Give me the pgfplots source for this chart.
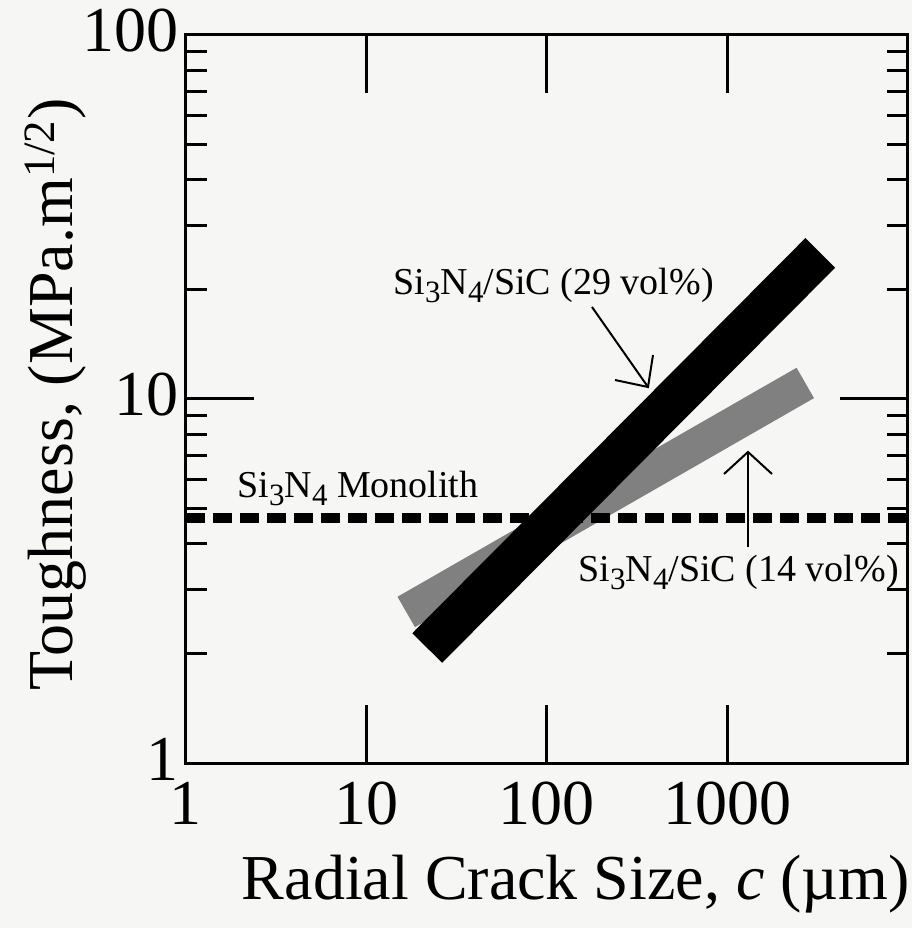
\documentclass[border=0pt]{standalone}
\usepackage{fontspec}
\setmainfont{Liberation Serif}
\usepackage{pgfplots}
\pgfplotsset{compat=1.18}
\definecolor{bg}{RGB}{246,246,244}
\newcommand\annfont{\fontsize{19}{23}\selectfont}
\newcommand\sub[1]{\raisebox{-4pt}{\fontsize{15.5}{18}\selectfont #1}}
\begin{document}
\begin{tikzpicture}
\begin{scope}[x=0.5pt,y=-0.5pt,shift={(-93pt,381.5pt)}]
\fill[bg] (0,0) rectangle (912,928);
\end{scope}
\begin{axis}[
  at={(0,0)}, anchor=south west,
  scale only axis, width=361pt, height=364pt,
  xmode=log, ymode=log,
  xmin=1, xmax=10000, ymin=1, ymax=100,
  xtick={1,10,100,1000}, xticklabels={1,10,100,1000},
  ytick={1,100}, yticklabels={1,100},
  extra y ticks={10}, extra y tick labels={10},
  extra y tick style={major tick length=34pt},
  xminorticks=false,
  minor ytick={2,3,4,5,6,7,8,9,20,30,40,50,60,70,80,90},
  major tick length=29pt, minor tick length=10.5pt,
  tick align=inside,
  axis line style={line width=1.5pt},
  tick style={line width=1.5pt, black},
  /pgf/number format/assume math mode=true,
  ticklabel style={font=\fontsize{32}{38}\selectfont},
  xticklabel style={yshift=-6pt},
  yticklabel style={yshift=2pt},
  label style={font=\fontsize{32}{38}\selectfont},
  xlabel={Radial Crack Size, \textit{c} (µm)},
  ylabel={Toughness, (MPa.m\textsuperscript{1/2})},
  xlabel style={at={(axis description cs:0.540,-0.188)}, anchor=base},
  ylabel style={at={(axis description cs:-0.181,0.506)}, anchor=center},
  clip=true,
]
% Si3N4/SiC (14 vol%) band
\addplot[black!50, line width=17.5pt, line cap=butt] coordinates {(16.6,2.60) (2698,11.07)};
% Si3N4/SiC (29 vol%) band
\addplot[black, line width=21pt, line cap=butt] coordinates {(21.7,2.07) (3266,25.2)};
% Si3N4 monolith
\addplot[black, line width=5pt, dash pattern=on 9.5pt off 4pt] coordinates {(1,4.7) (10000,4.7)};
\end{axis}
\begin{scope}[x=0.5pt,y=-0.5pt,shift={(-93pt,381.5pt)}]
\node[anchor=base west, inner sep=0pt, font=\annfont] at (393,295) {Si\sub{3}N\sub{4}/SiC (29 vol\%)};
\node[anchor=base west, inner sep=0pt, font=\annfont] at (237,498) {Si\sub{3}N\sub{4} Monolith};
\node[anchor=base west, inner sep=0pt, font=\annfont] at (578,582) {Si\sub{3}N\sub{4}/SiC (14 vol\%)};
\draw[line width=1pt] (592,307) -- (648,387);
\draw[line width=1pt] (615,380) -- (648,387) -- (653,355);
\draw[line width=1pt] (748,547) -- (748,452);
\draw[line width=1pt] (724,474) -- (748,452) -- (772,474);
\end{scope}
\end{tikzpicture}
\end{document}
